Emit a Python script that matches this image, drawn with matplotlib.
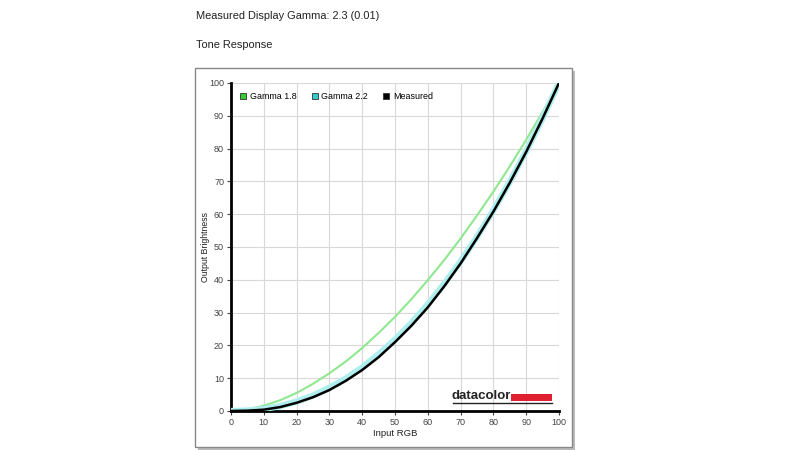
import numpy as np
import matplotlib
matplotlib.use('Agg')
import matplotlib.pyplot as plt
from matplotlib.patches import Rectangle

# values
input_rgb = [0, 5, 10, 15, 20, 25, 30, 35, 40, 45, 50, 55, 60, 65, 70, 75, 80, 85, 90, 95, 100]
gamma_18 = [0, 0.45, 1.6, 3.3, 5.5, 8.3, 11.5, 15.1, 19.2, 23.8, 28.7, 34.1, 39.9, 46.0, 52.6, 59.6, 66.9, 74.6, 82.7, 91.2, 100]
gamma_22 = [0, 0.15, 0.6, 1.5, 2.9, 4.7, 7.1, 9.9, 13.3, 17.3, 21.8, 26.8, 32.5, 38.8, 45.6, 53.1, 61.2, 69.9, 79.3, 89.3, 100]
measured = [0, 0.1, 0.4, 1.2, 2.5, 4.2, 6.4, 9.2, 12.5, 16.4, 21.0, 26.0, 31.6, 38.0, 45.0, 52.7, 60.8, 69.6, 79.0, 89.2, 100]

title_text = 'Measured Display Gamma: 2.3 (0.01)'
subtitle_text = 'Tone Response'
series_names = ['Gamma 1.8', 'Gamma 2.2', 'Measured']
legend_colors = ['#33cc33', '#33cccc', '#000000']

plt.rcParams['font.family'] = ['Liberation Sans', 'DejaVu Sans']

fig = plt.figure(figsize=(8, 4.5), dpi=100)
fig.patch.set_facecolor('white')

fig.text(196 / 800, 1 - 16 / 450, title_text, fontsize=7.9, va='center', ha='left', color='#222222')
fig.text(196 / 800, 1 - 45 / 450, subtitle_text, fontsize=7.9, va='center', ha='left', color='#222222')

# outer frame with shadow
shadow = Rectangle((198 / 800, 1 - 450 / 450), 377 / 800, 379 / 450, transform=fig.transFigure,
                   facecolor='#bbbbbb', edgecolor='none', zorder=0)
frame = Rectangle((195 / 800, 1 - 447 / 450), 377 / 800, 379 / 450, transform=fig.transFigure,
                  facecolor='white', edgecolor='#888888', linewidth=1.0, zorder=0.5)
fig.patches.extend([shadow, frame])

ax = fig.add_axes([231 / 800, 1 - 411 / 450, 328 / 800, 328 / 450])
ax.set_facecolor('white')
ax.set_zorder(2)

ax.plot(input_rgb, gamma_18, color='#8fe88f', linewidth=1.5, zorder=3)
ax.plot(input_rgb, gamma_22, color='#aeeeee', linewidth=4.5, zorder=4)
ax.plot(input_rgb, measured, color='#000000', linewidth=1.8, zorder=5)

ax.set_xlim(0, 100)
ax.set_ylim(0, 100)
ax.set_xticks(np.arange(0, 101, 10))
ax.set_yticks(np.arange(0, 101, 10))
ax.tick_params(labelsize=6.5, colors='#444444', length=3, width=0.8, pad=2)
ax.grid(True, color='#d8d8d8', linewidth=0.8)
ax.set_axisbelow(True)

for side in ['top', 'right']:
    ax.spines[side].set_visible(False)
ax.spines['left'].set_linewidth(2)
ax.spines['bottom'].set_linewidth(2)

ax.set_xlabel('Input RGB', fontsize=6.8, color='#222222')
ax.set_ylabel('Output Brightness', fontsize=6.3, color='#222222')
ax.xaxis.set_label_coords(0.5, -0.056)
ax.yaxis.set_label_coords(-0.064, 0.5)

# legend
handles = [Rectangle((0, 0), 1, 1, facecolor=c, edgecolor='#333333', linewidth=0.6) for c in legend_colors]
ax.legend(handles, series_names, loc='upper left', bbox_to_anchor=(0.0, 1.0), ncol=3, frameon=False,
          fontsize=6.4, handlelength=0.7, handleheight=0.7, handletextpad=0.4, columnspacing=1.7,
          borderaxespad=0.6)

# datacolor logo
ax.text(0.852, 0.027, 'datacolor', transform=ax.transAxes, fontsize=9.5, fontweight='bold',
        color='#222222', ha='right', va='bottom', zorder=6)
ax.add_patch(Rectangle((0.854, 0.030), 0.125, 0.022, transform=ax.transAxes,
                       facecolor='#e02030', edgecolor='none', zorder=6))
ax.plot([0.677, 0.979], [0.024, 0.024], transform=ax.transAxes, color='#222222', linewidth=1.0, zorder=6)

fig.savefig('out.png', dpi=100, facecolor='white')
